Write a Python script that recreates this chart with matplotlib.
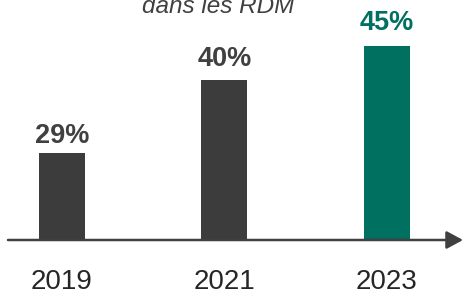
import matplotlib.pyplot as plt
from matplotlib.transforms import blended_transform_factory

annees = ['2019', '2021', '2023']
valeurs = [29, 40, 45]
etiquettes = ['29%', '40%', '45%']
couleurs = ['#3c3c3c', '#3c3c3c', '#007060']
couleurs_txt = ['#404040', '#404040', '#007060']
decalages = [7.2, 10.0, 11.5]  # ecart etiquette / barre, en points

plt.rcParams['font.family'] = ['Liberation Sans', 'DejaVu Sans']

fig = plt.figure(figsize=(4.63, 2.96), dpi=100)
ax = fig.add_axes([0, 56 / 296, 1, 240 / 296])

x = list(range(len(annees)))
ax.bar(x, valeurs, width=0.283, color=couleurs, zorder=1)
ax.set_xlim(-0.3815, 2.468)
ax.set_ylim(16, 51.89)
ax.axis('off')

# axe avec fleche
ax.annotate('', xy=(1.0, 0), xytext=(8 / 463, 0), xycoords='axes fraction',
            arrowprops=dict(arrowstyle='-|>,head_length=0.5,head_width=0.27',
                            mutation_scale=20, lw=1.8, color='#404040',
                            shrinkA=0, shrinkB=0), zorder=3)

for xi, v, lab, c, d in zip(x, valeurs, etiquettes, couleurs_txt, decalages):
    ax.annotate(lab, (xi, v), xytext=(0, d), textcoords='offset points',
                ha='center', va='baseline', fontsize=19.5, fontweight='bold', color=c)

trans = blended_transform_factory(ax.transData, ax.transAxes)
for xi, a in zip(x, annees):
    ax.text(xi, -49 / 240, a, transform=trans, ha='center', va='baseline',
            fontsize=20, color='#262626')

fig.text(218 / 463, 1 - 13 / 296, 'dans les RDM', ha='center', va='baseline',
         fontsize=17.5, style='italic', color='#404040')

fig.savefig('out.png', dpi=100)
